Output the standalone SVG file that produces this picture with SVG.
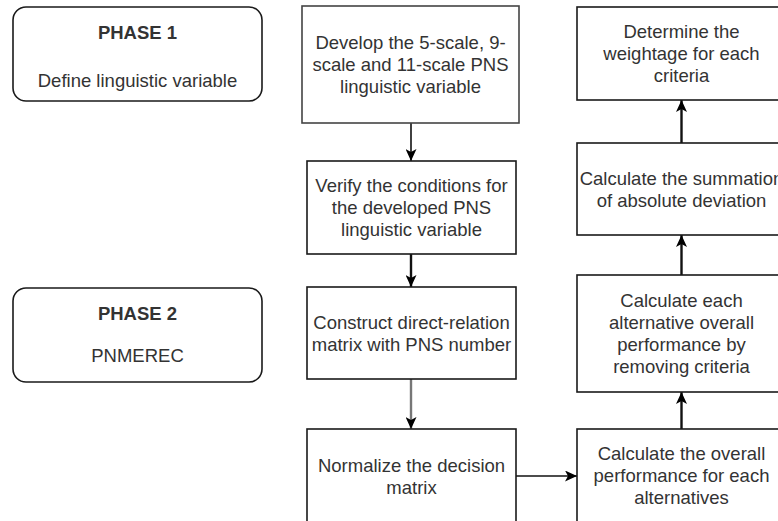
<svg xmlns="http://www.w3.org/2000/svg" width="778" height="521" viewBox="0 0 778 521">
<style>
.box{fill:#fff;stroke:#1a1a1a;stroke-width:1.6}
.phase{fill:#fff;stroke:#1a1a1a;stroke-width:1.6}
.t{font-family:"Liberation Sans",Arial,sans-serif;font-size:18.5px;fill:#333;text-anchor:middle}
.b{font-weight:bold}
.c{fill:none;stroke:#111;stroke-width:1.6}
.thick{stroke-width:2.4}
.gray{stroke:#777;stroke-width:2.4}
</style>
<defs>
<marker id="ah" viewBox="0 0 12 11" refX="12" refY="5.5" markerWidth="12" markerHeight="11" markerUnits="userSpaceOnUse" orient="auto">
<path d="M0,0 L12,5.5 L0,11 L3,5.5 Z" fill="#000"/>
</marker>
</defs>
<rect width="778" height="521" fill="#fff"/>
<g id="connectors">
<path class="c" d="M411,123 L411,161" marker-end="url(#ah)"/>
<path class="c thick" d="M411,254 L411,287" marker-end="url(#ah)"/>
<path class="c gray" d="M411,379 L411,429" marker-end="url(#ah)"/>
<path class="c" d="M516,476 L577,476" marker-end="url(#ah)"/>
<path class="c thick" d="M681.5,429 L681.5,392" marker-end="url(#ah)"/>
<path class="c thick" d="M681.5,275 L681.5,235" marker-end="url(#ah)"/>
<path class="c thick" d="M681.5,143 L681.5,100" marker-end="url(#ah)"/>
</g>
<g id="phase1">
<rect class="phase" x="13" y="7" width="249" height="94" rx="13"/>
<text class="t b" x="137.5" y="39">PHASE 1</text>
<text class="t" x="137.5" y="87">Define linguistic variable</text>
</g>
<g id="phase2">
<rect class="phase" x="13" y="288" width="249" height="94" rx="13"/>
<text class="t b" x="137.5" y="320">PHASE 2</text>
<text class="t" x="137.5" y="362">PNMEREC</text>
</g>
<g id="develop">
<rect class="box" x="302" y="6" width="217" height="117" style="stroke:#444"/>
<text class="t" x="410.5" y="49"><tspan x="410.5">Develop the 5-scale, 9-</tspan><tspan x="410.5" dy="22">scale and 11-scale PNS</tspan><tspan x="410.5" dy="22">linguistic variable</tspan></text>
</g>
<g id="verify">
<rect class="box" x="307" y="161" width="209" height="93"/>
<text class="t" x="411.5" y="192"><tspan x="411.5">Verify the conditions for</tspan><tspan x="411.5" dy="22">the developed PNS</tspan><tspan x="411.5" dy="22">linguistic variable</tspan></text>
</g>
<g id="construct">
<rect class="box" x="307" y="287" width="209" height="92"/>
<text class="t" x="411.5" y="328.5"><tspan x="411.5">Construct direct-relation</tspan><tspan x="411.5" dy="22">matrix with PNS number</tspan></text>
</g>
<g id="normalize">
<rect class="box" x="307" y="429" width="209" height="100"/>
<text class="t" x="411.5" y="471.5"><tspan x="411.5">Normalize the decision</tspan><tspan x="411.5" dy="22">matrix</tspan></text>
</g>
<g id="overall">
<rect class="box" x="577" y="429" width="209" height="100"/>
<text class="t" x="681.5" y="460"><tspan x="681.5">Calculate the overall</tspan><tspan x="681.5" dy="22">performance for each</tspan><tspan x="681.5" dy="22">alternatives</tspan></text>
</g>
<g id="removing">
<rect class="box" x="577" y="275" width="209" height="117"/>
<text class="t" x="681.5" y="307"><tspan x="681.5">Calculate each</tspan><tspan x="681.5" dy="22">alternative overall</tspan><tspan x="681.5" dy="22">performance by</tspan><tspan x="681.5" dy="22">removing criteria</tspan></text>
</g>
<g id="summation">
<rect class="box" x="577" y="143" width="209" height="92"/>
<text class="t" x="681.5" y="184.5"><tspan x="681.5">Calculate the summation</tspan><tspan x="681.5" dy="22">of absolute deviation</tspan></text>
</g>
<g id="determine">
<rect class="box" x="577" y="7" width="209" height="93"/>
<text class="t" x="681.5" y="38"><tspan x="681.5">Determine the</tspan><tspan x="681.5" dy="22">weightage for each</tspan><tspan x="681.5" dy="22">criteria</tspan></text>
</g>
</svg>
